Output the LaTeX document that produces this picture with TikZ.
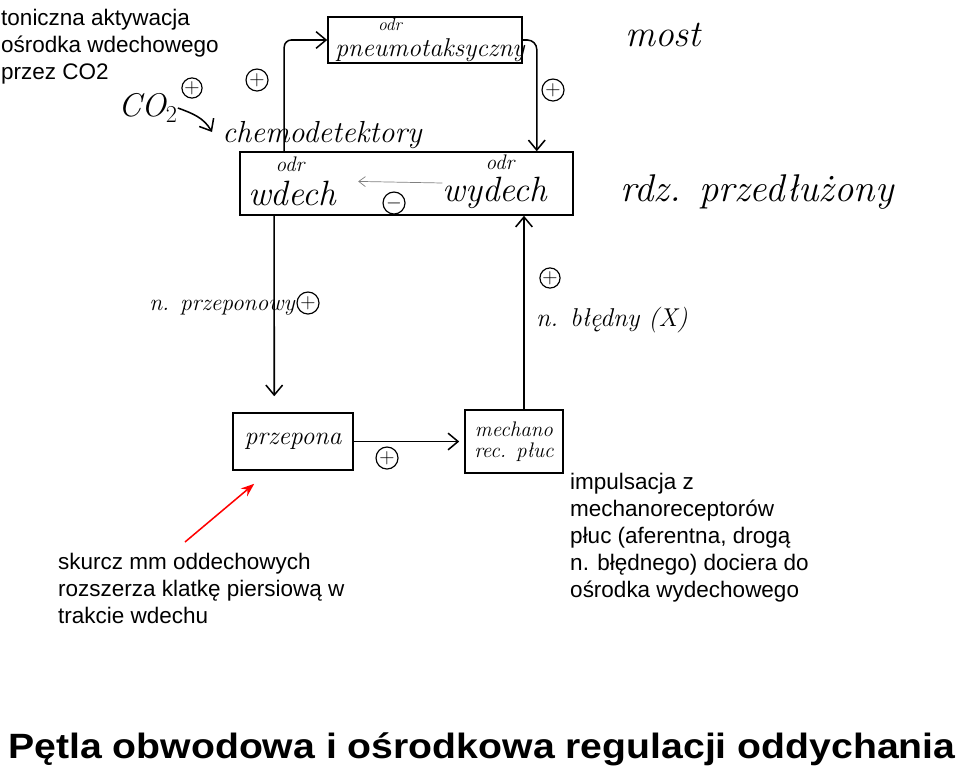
\documentclass[tikz,border=0pt]{standalone}
\usepackage{fontspec}
\setsansfont{Liberation Sans}
\usetikzlibrary{arrows.meta,positioning,calc}

\begin{document}
\begin{tikzpicture}[x=0.03cm,y=-0.03cm,
		>={Straight Barb[length=3mm,width=5mm]},
		box/.style={draw,line width=1.3pt,inner sep=0pt},
		hand/.style={font=\fontsize{#1}{#1}\selectfont\itshape,inner sep=0pt},
		hand/.default=20,
		typed/.style={font=\sffamily\fontsize{19.2}{23}\selectfont,align=left,inner sep=0pt,anchor=north west},
		plus/.style={draw,circle,line width=1pt,inner sep=0pt,minimum size=0.66cm,font=\fontsize{18}{18}\selectfont},
		link/.style={line width=1.3pt}
	]
	\useasboundingbox (0,0) rectangle (960,774);

	% >> most
	\node[box,minimum width=5.82cm,minimum height=1.38cm] (pneumo) at (425,40) {};
	\node[hand=15] (odrp) at (390,24) {odr};
	\node[hand=22] (pneu) at (430,50) {pneumotaksyczny};
	\node[hand=32] (most) at (663,35) {most};

	% >> rdzen przedluzony
	\node[hand=26] (chemo) at (322,135) {chemodetektory};
	\node[box,minimum width=9.99cm,minimum height=1.89cm] (osr) at (406.5,183.5) {};
	\node[hand=18] (odr1) at (290,164) {odr};
	\node[hand=30] (wdech) at (292,193) {wdech};
	\node[hand=18] (odr2) at (500,162) {odr};
	\node[hand=30] (wydech) at (495,193) {wydech};
	\node[plus] (minus) at (394,203) {$-$};
	\node[hand=33] (rdz) at (757,192) {rdz. przedłużony};
	\draw[->,gray,line width=0.6pt,>={Straight Barb[length=2mm,width=3mm]},shorten >=22*0.03cm] ($(wydech.west)+(0,-10)$) -- ($(wdech.east)+(0,-12)$);

	\node[hand=28] (co2) at (148,108) {CO$_2$};
	\node[plus,minimum size=0.6cm] (p0) at (192,88) {+};
	\coordinate (co2in) at (212,132);
	\draw[->,link] (co2.east) to[out=-20,in=120] (co2in);

	\draw[->,link,rounded corners=6pt] ($(osr.north west)+(45,0)$) |- (pneumo.west);
	\node[plus] (p1) at (257,80) {+};
	\draw[->,link,rounded corners=8pt] (pneumo.east) -| ($(osr.north east)+(-37,0)$);
	\node[plus] (p2) at (553,90) {+};

	% >> obwod
	\node[box,minimum width=3.6cm,minimum height=1.71cm,hand=22] (przepona) at (293,441.5) {przepona};
	\node[box,minimum width=2.94cm,minimum height=1.89cm,hand=18,align=center] (mechano) at (514,441.5) {mechano\\rec. płuc};
	\draw[->,link,shorten >=0.48cm] ($(osr.south west)+(35,0)$) -- ($(przepona.north west)+(42,0)$);
	\node[hand=20] (nprz) at (222,308) {n. przeponowy};
	\node[plus] (p3) at (308,303) {+};
	\draw[->,link,shorten >=0.15cm] (przepona.east) -- (mechano.west);
	\node[plus] (p4) at (387,458) {+};
	\draw[->,link] ($(mechano.north)+(10,0)$) coordinate (m1) -- (m1 |- osr.south);
	\node[plus,minimum size=0.54cm] (p5) at (550,278) {+};
	\node[hand=22] (nbl) at (612,320) {n. błędny (X)};

	% >> opisy
	\node[typed] (ton) at (1,9) {toniczna aktywacja\\ośrodka wdechowego\\przez CO2};
	\node[typed] (skurcz) at (58,553) {skurcz mm oddechowych\\rozszerza klatkę piersiową w\\trakcie wdechu};
	\node[typed] (impuls) at (570,473) {impulsacja z\\mechanoreceptorów\\płuc (aferentna, drogą\\n. błędnego) dociera do\\ośrodka wydechowego};
	\draw[->,red,line width=1.3pt,>={Stealth[length=4mm,width=3mm]}] ($(skurcz.north west)+(127,-11)$) -- ($(przepona.south west)+(22,13)$);
	\node[font=\sffamily\bfseries\fontsize{30}{30}\selectfont,anchor=base west,inner sep=0pt] (title) at (8,758) {\scalebox{1.115}[1]{Pętla obwodowa i ośrodkowa regulacji oddychania}};
\end{tikzpicture}
\end{document}
